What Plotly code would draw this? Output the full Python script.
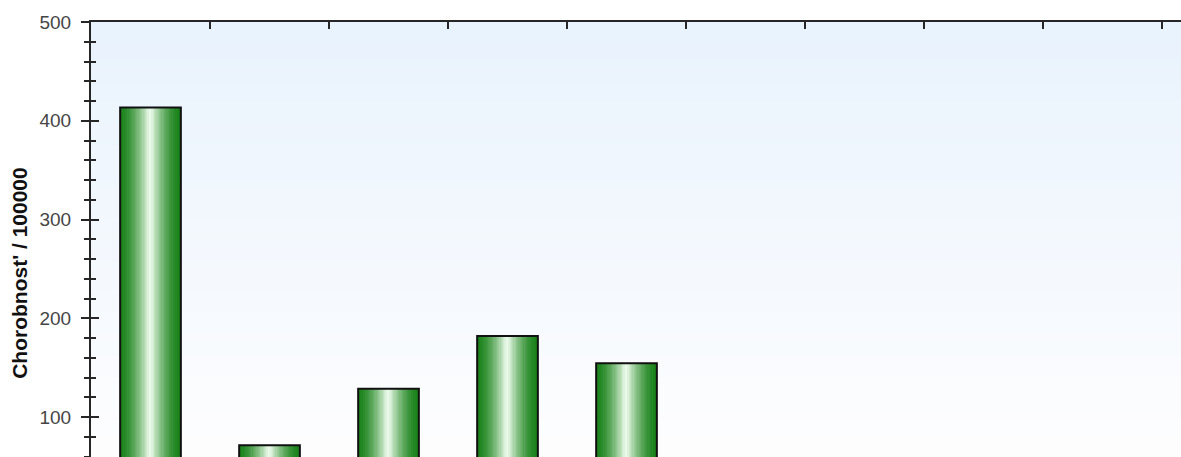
import plotly.graph_objects as go
import numpy as np

# ---- data ----
category_pos = [1, 2, 3, 4, 5]
values = [413.5, 71.5, 128.5, 182.0, 154.5]
y_tick_vals = [100, 200, 300, 400, 500]
x_boundaries = [1.5, 2.5, 3.5, 4.5, 5.5, 6.5, 7.5, 8.5, 9.5]
y_title = "Chorobnost' / 100000"

# ---- styling ----
W, H = 1181, 457
L, T = 91, 22
CAT_PX = 119.0
X_MIN = 0.5
X_MAX = X_MIN + (W - L) / CAT_PX
Y_MAX = 500
Y_MIN = 59.5

BAR_W = 0.51
N = 48
dark = np.array([26, 130, 26])
light = np.array([242, 255, 242])

fig = go.Figure()

step = BAR_W / N
for i in range(N):
    t = (i + 0.5) / N
    m = max(0.0, 1 - abs(t - 0.5) / 0.5) ** 1.6
    c = dark + (light - dark) * m
    w = step * 1.2 if i < N - 1 else step
    fig.add_bar(
        x=category_pos, y=values,
        width=w, offset=-BAR_W / 2 + i * step,
        marker=dict(color=f"rgb({int(c[0])},{int(c[1])},{int(c[2])})", line=dict(width=0)),
        showlegend=False, hoverinfo="skip",
    )

# outline
fig.add_bar(
    x=category_pos, y=values, width=BAR_W, offset=-BAR_W / 2,
    marker=dict(color="rgba(0,0,0,0)", line=dict(color="#111111", width=2)),
    showlegend=False, hoverinfo="skip",
)

# dummy for overlay axis (inner tick halves)
fig.add_scatter(x=[], y=[], yaxis="y2", showlegend=False)

# background gradient
shapes = []
NB = 60
top_c = np.array([233, 243, 253])
bot_c = np.array([254, 254, 255])
for k in range(NB):
    f = (k + 0.5) / NB  # 0 bottom -> 1 top
    c = bot_c + (top_c - bot_c) * f
    shapes.append(dict(
        type="rect", xref="paper", yref="paper",
        x0=0, x1=1, y0=k / NB, y1=(k + 1) / NB + 0.003,
        fillcolor=f"rgb({int(c[0])},{int(c[1])},{int(c[2])})",
        line=dict(width=0), layer="below",
    ))

axis_col = "#262626"
fig.update_layout(
    width=W, height=H,
    margin=dict(l=L, r=0, t=T, b=0, pad=0),
    paper_bgcolor="white", plot_bgcolor="white",
    barmode="overlay",
    shapes=shapes,
    font=dict(family="Arial, Liberation Sans, sans-serif"),
    xaxis=dict(
        range=[X_MIN, X_MAX], side="top",
        showline=True, linecolor=axis_col, linewidth=2,
        ticks="inside", ticklen=7, tickwidth=2, tickcolor=axis_col,
        tickmode="array", tickvals=x_boundaries,
        showticklabels=False, showgrid=False, zeroline=False,
        automargin=False, fixedrange=True,
    ),
    yaxis=dict(
        range=[Y_MIN, Y_MAX],
        showline=True, linecolor=axis_col, linewidth=2,
        ticks="outside", ticklen=8, tickwidth=1.5, tickcolor=axis_col,
        tickmode="array", tickvals=y_tick_vals,
        minor=dict(ticks="outside", ticklen=5, tickwidth=1.5, tickcolor=axis_col,
                   dtick=20, tick0=0),
        tickfont=dict(size=19, color="#454545", family="Arial, Liberation Sans, sans-serif"),
        ticklabelstandoff=6,
        showgrid=False, zeroline=False, automargin=False,
    ),
    yaxis2=dict(
        range=[Y_MIN, Y_MAX], overlaying="y", side="left",
        showline=False,
        ticks="inside", ticklen=8, tickwidth=1.5, tickcolor=axis_col,
        tickmode="array", tickvals=y_tick_vals,
        minor=dict(ticks="inside", ticklen=5, tickwidth=1.5, tickcolor=axis_col,
                   dtick=20, tick0=0),
        showticklabels=False, showgrid=False, zeroline=False, automargin=False,
    ),
    annotations=[dict(
        text=f"<b>{y_title}</b>", textangle=-90,
        xref="paper", yref="y", x=0, y=246, xanchor="center", yanchor="middle",
        xshift=20 - L, showarrow=False,
        font=dict(size=21, color="#111111", family="Arial, Liberation Sans, sans-serif"),
    )],
)

fig.write_html(
    "out.html",
    config={"displayModeBar": False},
    post_script="document.body.style.margin='0';document.body.style.overflow='hidden';",
)
